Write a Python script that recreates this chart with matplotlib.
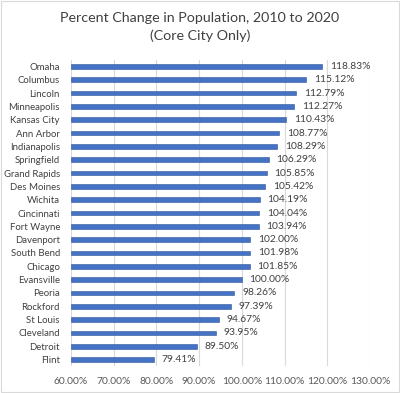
import matplotlib.pyplot as plt
from matplotlib.ticker import FuncFormatter

plt.rcParams['font.family'] = ['Lato', 'DejaVu Sans']

cities = ['Omaha', 'Columbus', 'Lincoln', 'Minneapolis', 'Kansas City', 'Ann Arbor',
          'Indianapolis', 'Springfield', 'Grand Rapids', 'Des Moines', 'Wichita',
          'Cincinnati', 'Fort Wayne', 'Davenport', 'South Bend', 'Chicago',
          'Evansville', 'Peoria', 'Rockford', 'St Louis', 'Cleveland', 'Detroit', 'Flint']
change = [118.83, 115.12, 112.79, 112.27, 110.43, 108.77, 108.29, 106.29, 105.85,
          105.42, 104.19, 104.04, 103.94, 102.00, 101.98, 101.85, 100.00, 98.26,
          97.39, 94.67, 93.95, 89.50, 79.41]
ticks = [60, 70, 80, 90, 100, 110, 120, 130]

fig = plt.figure(figsize=(4.0, 3.93), dpi=100)
ax = fig.add_axes([0.1775, 0.068, 0.7475, 0.78])

y = list(range(len(cities)))
ax.barh(y, [c - 60 for c in change], left=60, height=0.35,
        color='#4472C4', edgecolor='#2F5597', linewidth=0.4, zorder=3)
for yi, c in zip(y, change):
    ax.text(c + 1.8, yi, f'{c:.2f}%', va='center', ha='left',
            fontsize=7.4, color='#404040')

ax.set_yticks(y)
ax.set_yticklabels(cities, fontsize=6.9, color='#404040')
ax.set_ylim(len(cities) - 0.5, -0.5)
ax.set_xlim(60, 130)
ax.set_xticks(ticks)
ax.xaxis.set_major_formatter(FuncFormatter(lambda v, p: f'{v:.2f}%'))
ax.tick_params(axis='x', labelsize=7.4, colors='#595959', length=0, pad=8)
ax.tick_params(axis='y', length=0, pad=8)
ax.grid(axis='x', color='#D9D9D9', linewidth=0.8, zorder=0)
for s in ax.spines.values():
    s.set_visible(False)

fig.text(0.5, 0.953, 'Percent Change in Population, 2010 to 2020',
         ha='center', va='center', fontsize=10.3, color='#404040')
fig.text(0.5, 0.91, '(Core City Only)', ha='center', va='center',
         fontsize=10.3, color='#404040')

fig.patches.append(plt.Rectangle((0.002, 0.002), 0.996, 0.996, transform=fig.transFigure,
                                 fill=False, edgecolor='#D9D9D9', linewidth=0.8))
fig.savefig('out.png', dpi=100)
